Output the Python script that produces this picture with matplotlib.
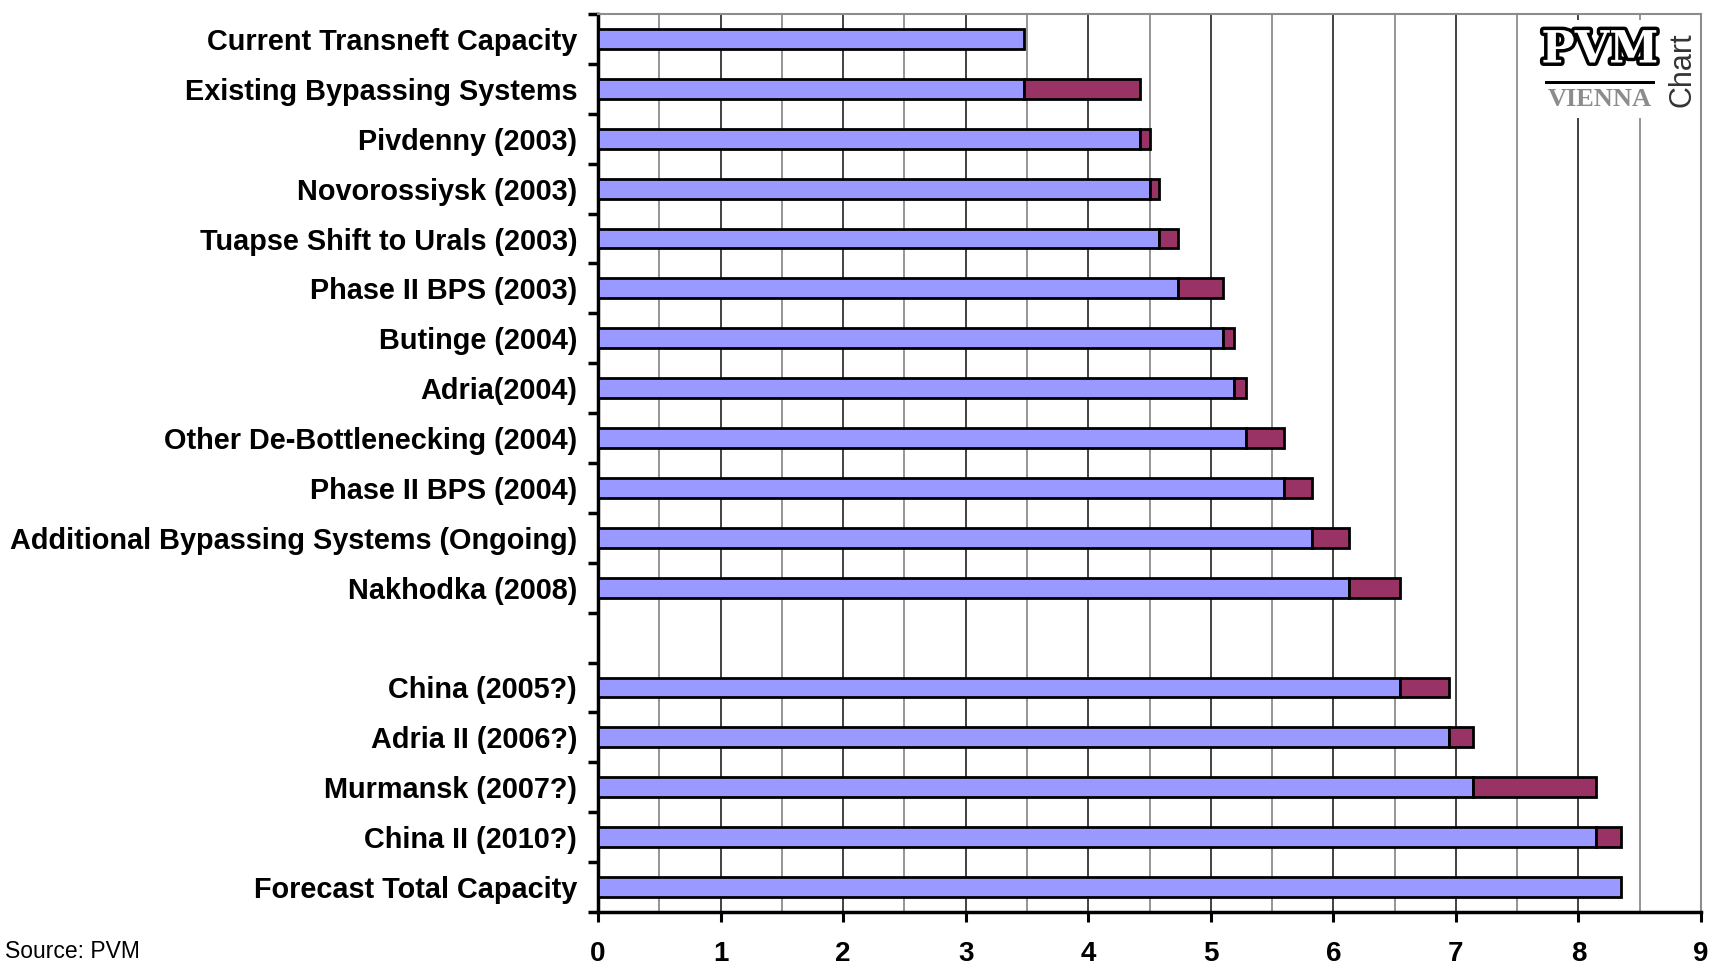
import numpy as np
import matplotlib
matplotlib.use("Agg")
import matplotlib.pyplot as plt
import matplotlib.patheffects as pe
from matplotlib.patches import Rectangle

plt.rcParams['font.family'] = ['Liberation Sans', 'DejaVu Sans']

# categories, top to bottom ('' is the empty gap row)
labels = ['Current Transneft Capacity', 'Existing Bypassing Systems', 'Pivdenny (2003)',
          'Novorossiysk (2003)', 'Tuapse Shift to Urals (2003)', 'Phase II BPS (2003)',
          'Butinge (2004)', 'Adria(2004)', 'Other De-Bottlenecking (2004)', 'Phase II BPS (2004)',
          'Additional Bypassing Systems (Ongoing)', 'Nakhodka (2008)', '',
          'China (2005?)', 'Adria II (2006?)', 'Murmansk (2007?)', 'China II (2010?)',
          'Forecast Total Capacity']
# capacity already in place (blue) and capacity added by each project (red)
base = [3.48, 3.48, 4.42, 4.50, 4.58, 4.73, 5.10, 5.19, 5.29, 5.60, 5.83, 6.13, np.nan,
        6.54, 6.94, 7.14, 8.14, 8.35]
added = [0, 0.94, 0.08, 0.08, 0.15, 0.37, 0.09, 0.10, 0.31, 0.23, 0.30, 0.41, np.nan,
         0.40, 0.20, 1.00, 0.21, 0]
xticks = [0, 1, 2, 3, 4, 5, 6, 7, 8, 9]

W, H = 1712, 964
fig = plt.figure(figsize=(W / 100, H / 100), dpi=100)
ax = fig.add_axes([598 / W, 1 - 912 / H, (1701 - 598) / W, (912 - 14) / H])

y = np.arange(len(labels))
base = np.array(base)
added = np.array(added)
ok = ~np.isnan(base)
ax.barh(y[ok], base[ok], height=0.4, color='#9999FF', edgecolor='black', linewidth=2, zorder=3)
red = ok & (added > 0)
ax.barh(y[red], added[red], left=base[red], height=0.4, color='#993366',
        edgecolor='black', linewidth=2, zorder=3)

ax.set_xlim(0, 9)
ax.set_ylim(len(labels) - 0.5, -0.5)

# vertical grid: dark at whole numbers, lighter at halves
for v in np.arange(0.5, 9, 0.5):
    ax.axvline(v, color='#333333' if v == int(v) else '#8c8c8c', lw=1.3, zorder=1)

ax.set_xticks(xticks)
ax.set_xticklabels([str(t) for t in xticks], fontsize=20, fontweight='bold')
ax.tick_params(axis='x', direction='out', length=7, width=2.2, pad=14)

ax.set_yticks(np.arange(len(labels) + 1) - 0.5)
ax.set_yticklabels([])
ax.set_yticks(y, minor=True)
ax.set_yticklabels(labels, minor=True, fontsize=20.8, fontweight='bold')
ax.tick_params(axis='y', which='major', direction='out', length=7, width=2.5)
ax.tick_params(axis='y', which='minor', length=0, pad=15)

ax.spines['left'].set_linewidth(2.5)
ax.spines['bottom'].set_linewidth(2.5)
ax.spines['top'].set_color('#8c8c8c')
ax.spines['right'].set_color('#8c8c8c')
ax.spines['top'].set_linewidth(1.5)
ax.spines['right'].set_linewidth(1.5)

# PVM logo in the top right corner
fig.patches.append(Rectangle((1535 / W, 1 - 118 / H), 160 / W, 98 / H, transform=fig.transFigure,
                             facecolor='white', edgecolor='none', zorder=5))
fig.text(1600 / W, 1 - 50 / H, 'PVM', ha='center', va='center', fontsize=32, fontweight='bold',
         family='DejaVu Serif', color='white', zorder=6,
         path_effects=[pe.withStroke(linewidth=5, foreground='black')])
fig.patches.append(Rectangle((1545 / W, 1 - 84 / H), 110 / W, 3 / H, transform=fig.transFigure,
                             facecolor='black', edgecolor='none', zorder=6))
fig.text(1600 / W, 1 - 100 / H, 'VIENNA', ha='center', va='center', fontsize=19, fontweight='bold',
         family='Liberation Serif', color='#8c8c8c', zorder=6)
fig.text(1682 / W, 1 - 70 / H, 'Chart', ha='center', va='center', rotation=90, fontsize=22,
         color='#333333', zorder=6)

fig.text(5 / W, 1 - 951 / H, 'Source: PVM', ha='left', va='center', fontsize=16.5)

fig.savefig('out.png', dpi=100)
